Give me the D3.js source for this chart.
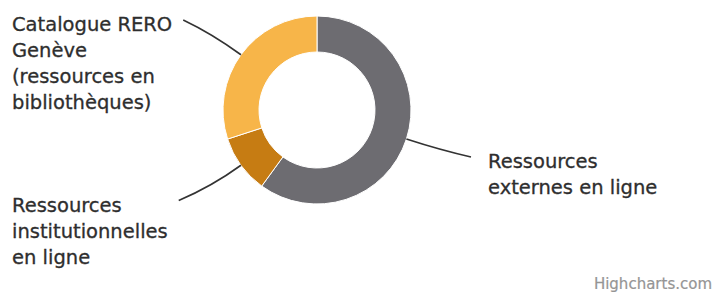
<!DOCTYPE html>
<html>
<head>
<meta charset="utf-8">
<script src="https://cdn.jsdelivr.net/npm/d3@7/dist/d3.min.js"></script>
<style>
  html, body { margin: 0; padding: 0; background: #ffffff; }
  svg { display: block; }
</style>
</head>
<body>
<svg id="chart" width="717" height="292"></svg>
<script>
// ---- data ----
const categories = [
  "Ressources externes en ligne",
  "Ressources institutionnelles en ligne",
  "Catalogue RERO Genève (ressources en bibliothèques)"
];
const labelLines = [
  ["Ressources", "externes en ligne"],
  ["Ressources", "institutionnelles", "en ligne"],
  ["Catalogue RERO", "Genève", "(ressources en", "bibliothèques)"]
];
const values = [60, 10, 30];
const colors = ["#6d6c71", "#c67c13", "#f7b549"];
const credit = "Highcharts.com";

// ---- layout ----
const W = 717, H = 292;
const cx = 317, cy = 110, outerR = 94, innerR = 58;
const fontFamily = "'DejaVu Sans', Verdana, sans-serif";
const fontSize = 19.5, lineH = 26;
// label placement: side and first-line baseline
const labelLayout = [
  { side: "right", x: 488, y: 168 },
  { side: "left",  x: 12,  y: 211.5 },
  { side: "left",  x: 12,  y: 31 }
];

const svg = d3.select("#chart");
svg.append("rect").attr("width", W).attr("height", H).attr("fill", "#fff");

const g = svg.append("g").attr("transform", `translate(${cx},${cy})`);

const pie = d3.pie().sort(null).value(d => d)(values);
const arc = d3.arc().innerRadius(innerR).outerRadius(outerR);

g.selectAll("path.slice")
  .data(pie)
  .join("path")
  .attr("class", "slice")
  .attr("d", arc)
  .attr("fill", (d, i) => colors[i])
  .attr("stroke", "#ffffff")
  .attr("stroke-width", 1)
  .attr("stroke-linejoin", "round");

// labels
const labels = svg.append("g");
pie.forEach((d, i) => {
  const L = labelLayout[i];
  const t = labels.append("text")
    .attr("font-family", fontFamily)
    .attr("font-size", fontSize)
    .attr("fill", "#2e2e2e")
    .attr("stroke", "#2e2e2e")
    .attr("stroke-width", 0.3);
  labelLines[i].forEach((ln, k) => {
    t.append("tspan").attr("x", L.x).attr("y", L.y + k * lineH).text(ln);
  });
  let maxW = 0;
  t.selectAll("tspan").each(function() { maxW = Math.max(maxW, this.getComputedTextLength()); });

  // connector
  const mid = (d.startAngle + d.endAngle) / 2;
  const px = cx + outerR * Math.sin(mid), py = cy - outerR * Math.cos(mid);
  const qx = cx + (outerR + 36) * Math.sin(mid), qy = cy - (outerR + 36) * Math.cos(mid);
  const ex = L.side === "right" ? L.x - 17 : L.x + maxW + 11;
  const ey = L.y - 11;
  const p = d3.path();
  p.moveTo(ex, ey);
  p.quadraticCurveTo(qx, qy, px, py);
  svg.append("path")
    .attr("d", p.toString())
    .attr("fill", "none")
    .attr("stroke", "#333333")
    .attr("stroke-width", 1.6);
});

// credit
svg.append("text")
  .attr("x", 712).attr("y", 289)
  .attr("text-anchor", "end")
  .attr("font-family", fontFamily)
  .attr("font-size", 15)
  .attr("fill", "#959595")
  .attr("stroke", "#959595")
  .attr("stroke-width", 0.2)
  .text(credit);
</script>
</body>
</html>
